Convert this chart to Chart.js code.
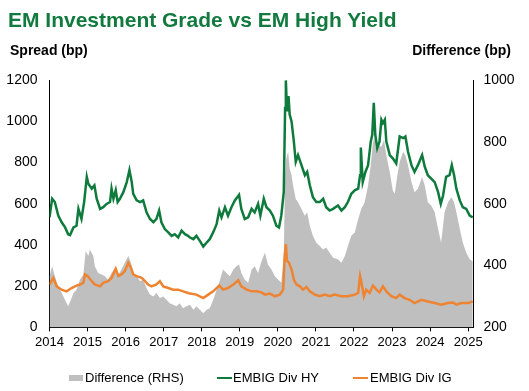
<!DOCTYPE html>
<html>
<head>
<meta charset="utf-8">
<script src="https://cdn.jsdelivr.net/npm/chart.js@4.4.1/dist/chart.umd.min.js"></script>
<style>
  body { margin: 0; background: #fff; overflow: hidden; }
  #wrap { position: relative; width: 529px; height: 391px; font-family: 'Liberation Sans', Arial, sans-serif; }
  #chart { position: absolute; left: 0; top: 0; }
  .txt { position: absolute; white-space: nowrap; }
  .title { left: 8px; top: 9px; font-size: 21px; line-height: 21px; font-weight: bold; color: #127A3E; }
  .axt { top: 43px; font-size: 14px; line-height: 14px; font-weight: bold; color: #000; }
  .leg { top: 370px; font-size: 13px; line-height: 15px; color: #000; }
  .sw { position: absolute; }
</style>
</head>
<body>
<div id="wrap">
  <canvas id="chart" width="529" height="391"></canvas>
  <div class="txt title">EM Investment Grade vs EM High Yield</div>
  <div class="txt axt" style="left:10px">Spread (bp)</div>
  <div class="txt axt" style="right:18px">Difference (bp)</div>
  <div class="sw" style="left:69px; top:375px; width:14px; height:6px; background:#BFBFBF"></div>
  <div class="txt leg" style="left:85px">Difference (RHS)</div>
  <div class="sw" style="left:217px; top:377px; width:15px; height:2px; background:#0E7A3C"></div>
  <div class="txt leg" style="left:233px">EMBIG Div HY</div>
  <div class="sw" style="left:353px; top:377px; width:15px; height:2px; background:#EE8432"></div>
  <div class="txt leg" style="left:370px">EMBIG Div IG</div>
</div>
<script>
// EMBIG Div HY spread (bp), left axis
var hyYears = [2014.00,2014.07,2014.14,2014.23,2014.32,2014.41,2014.49,2014.54,2014.63,2014.71,2014.76,2014.84,2014.91,2014.98,
  2015.02,2015.11,2015.18,2015.24,2015.33,2015.41,2015.50,2015.59,2015.63,2015.68,2015.74,2015.79,2015.85,2015.94,
  2016.03,2016.10,2016.16,2016.20,2016.29,2016.38,2016.46,2016.55,2016.64,2016.73,2016.81,2016.88,2016.94,
  2017.03,2017.12,2017.21,2017.29,2017.38,2017.47,2017.56,2017.64,2017.69,2017.78,2017.86,2017.95,
  2018.04,2018.13,2018.21,2018.30,2018.39,2018.46,2018.52,2018.61,2018.69,2018.78,2018.87,2018.98,
  2019.04,2019.13,2019.22,2019.31,2019.39,2019.48,2019.54,2019.63,2019.70,2019.79,2019.87,2019.96,
  2020.03,2020.09,2020.155,2020.19,2020.21,2020.24,2020.28,2020.31,2020.36,2020.42,2020.47,2020.53,2020.62,2020.71,2020.77,2020.84,2020.92,
  2021.01,2021.10,2021.19,2021.27,2021.36,2021.45,2021.58,2021.67,2021.76,2021.84,2021.93,
  2022.02,2022.11,2022.16,2022.18,2022.23,2022.30,2022.37,2022.44,2022.48,2022.52,2022.56,2022.61,2022.67,2022.72,2022.76,2022.81,2022.85,2022.94,
  2023.02,2023.11,2023.20,2023.29,2023.35,2023.42,2023.51,2023.59,2023.68,2023.79,2023.86,2023.94,
  2024.03,2024.12,2024.21,2024.28,2024.34,2024.42,2024.51,2024.57,2024.63,2024.69,2024.78,2024.86,2024.95,
  2025.04,2025.12];
var hySpread = [534,624,608,542,510,485,452,448,485,493,575,526,608,730,
  697,673,689,624,575,583,599,608,673,624,665,608,624,656,
  705,763,705,648,616,608,616,558,526,510,526,567,510,
  477,461,444,452,436,469,452,444,436,428,444,420,
  392,412,428,461,501,567,534,583,542,583,616,643,
  575,526,534,575,558,599,542,624,583,567,542,493,
  485,542,656,1064,1198,1048,1122,1032,999,901,803,836,787,738,754,689,632,
  608,608,624,583,567,575,591,567,583,608,648,
  665,673,738,872,705,754,787,901,934,1089,934,869,901,1007,991,1007,901,836,
  820,795,926,918,926,852,787,754,787,836,779,738,
  722,705,656,599,640,730,738,787,738,673,616,583,575,
  542,534];

// EMBIG Div IG spread (bp), left axis
var igYears = [2014.00,2014.10,2014.19,2014.32,2014.45,2014.58,2014.71,2014.80,2014.89,2014.93,
  2015.00,2015.11,2015.19,2015.33,2015.41,2015.54,2015.63,2015.74,2015.81,2015.89,2015.98,
  2016.07,2016.14,2016.20,2016.29,2016.42,2016.51,2016.59,2016.68,2016.81,2016.90,2016.99,
  2017.12,2017.25,2017.38,2017.51,2017.64,2017.69,2017.86,
  2018.04,2018.17,2018.30,2018.46,2018.56,2018.69,2018.83,2018.96,
  2019.04,2019.18,2019.31,2019.44,2019.57,2019.66,2019.79,2019.92,
  2020.05,2020.14,2020.18,2020.21,2020.24,2020.29,2020.36,2020.42,2020.49,2020.58,2020.66,2020.75,2020.84,2020.97,
  2021.10,2021.23,2021.36,2021.49,2021.67,2021.84,
  2022.02,2022.11,2022.16,2022.19,2022.26,2022.32,2022.41,2022.50,2022.59,2022.67,2022.76,2022.85,2022.98,
  2023.11,2023.20,2023.33,2023.46,2023.59,2023.77,2023.94,
  2024.12,2024.29,2024.47,2024.60,2024.69,2024.82,2025.00,2025.12];
var igSpread = [208,240,199,183,175,191,203,208,216,257,
  249,224,208,199,216,224,240,284,249,257,273,
  314,289,257,249,240,224,208,199,208,224,199,
  191,183,183,175,167,164,159,
  142,159,175,203,183,191,208,229,
  199,183,175,175,170,159,164,151,
  159,183,346,404,322,314,281,232,208,199,183,196,175,159,
  151,159,151,159,151,151,
  159,167,249,224,151,183,167,203,183,170,199,175,151,
  142,159,142,134,118,134,126,
  118,110,118,121,110,118,118,126];

// Difference (bp), right axis
var diffYears = [2014.00,2014.07,2014.14,2014.23,2014.32,2014.41,2014.49,2014.56,2014.63,2014.71,2014.80,2014.89,2014.95,
  2015.02,2015.06,2015.15,2015.19,2015.28,2015.37,2015.46,2015.54,2015.63,2015.72,2015.81,2015.89,2015.98,
  2016.07,2016.14,2016.20,2016.29,2016.38,2016.46,2016.55,2016.64,2016.73,2016.81,2016.90,2016.99,
  2017.08,2017.16,2017.25,2017.34,2017.42,2017.51,2017.60,2017.69,2017.78,2017.86,2017.95,
  2018.04,2018.13,2018.21,2018.30,2018.39,2018.48,2018.56,2018.65,2018.74,2018.83,2018.91,2018.98,
  2019.04,2019.13,2019.22,2019.31,2019.39,2019.48,2019.57,2019.66,2019.74,2019.83,2019.92,
  2020.01,2020.09,2020.155,2020.19,2020.22,2020.27,2020.31,2020.36,2020.40,2020.47,2020.53,2020.62,2020.71,2020.77,2020.84,2020.92,
  2021.01,2021.10,2021.19,2021.27,2021.36,2021.45,2021.58,2021.67,2021.76,2021.84,2021.93,
  2022.02,2022.11,2022.19,2022.28,2022.37,2022.44,2022.50,2022.54,2022.59,2022.63,2022.72,2022.79,2022.85,2022.94,
  2023.02,2023.07,2023.14,2023.20,2023.29,2023.35,2023.42,2023.51,2023.59,2023.68,2023.79,2023.86,2023.94,
  2024.03,2024.12,2024.21,2024.29,2024.38,2024.47,2024.56,2024.63,2024.69,2024.78,2024.86,2024.95,
  2025.04,2025.12];
var diffValues = [365,398,365,333,311,289,268,289,311,322,354,371,447,
  431,452,431,398,376,371,365,354,376,392,371,387,409,
  431,409,376,365,349,354,327,306,300,311,295,300,
  289,278,273,268,278,262,268,273,257,268,257,
  246,257,262,289,322,354,387,376,365,387,398,403,
  376,354,344,387,398,376,414,441,403,387,365,
  354,344,431,692,746,768,713,692,659,615,605,583,561,572,528,496,
  474,463,452,458,441,425,420,409,431,463,496,
  507,550,583,605,659,724,800,811,768,789,784,806,757,702,
  643,632,692,735,768,757,724,670,637,648,686,659,605,
  594,572,518,474,572,605,621,605,572,518,474,441,
  420,414];

var yearTicks = [2014, 2025.14];
var leftRange = [0, 1200];
var rightRange = [200, 1000];

function pts(xs, ys) {
  return xs.map(function (x, i) { return { x: x, y: ys[i] }; });
}

Chart.defaults.font.family = "'Liberation Sans', Arial, sans-serif";
Chart.defaults.color = '#000';

var ctx = document.getElementById('chart').getContext('2d');
new Chart(ctx, {
  type: 'line',
  data: {
    datasets: [{
      label: 'EMBIG Div HY',
      data: pts(hyYears, hySpread),
      yAxisID: 'y',
      borderColor: '#0E7A3C',
      borderWidth: 2.5,
      pointRadius: 0,
      tension: 0,
      order: 0
    }, {
      label: 'EMBIG Div IG',
      data: pts(igYears, igSpread),
      yAxisID: 'y',
      borderColor: '#EE8432',
      borderWidth: 2.5,
      pointRadius: 0,
      tension: 0,
      order: 1
    }, {
      label: 'Difference (RHS)',
      data: pts(diffYears, diffValues),
      yAxisID: 'y1',
      borderWidth: 0,
      borderColor: 'rgba(0,0,0,0)',
      backgroundColor: '#BFBFBF',
      fill: 'start',
      pointRadius: 0,
      tension: 0,
      order: 2
    }]
  },
  options: {
    responsive: false,
    animation: false,
    devicePixelRatio: 1,
    layout: { padding: { left: 6, right: 14, top: 80, bottom: 38 } },
    plugins: { legend: { display: false }, tooltip: { enabled: false } },
    scales: {
      x: {
        type: 'linear',
        min: yearTicks[0],
        max: yearTicks[1],
        grid: { display: true, drawOnChartArea: false, drawTicks: true, tickLength: 4, color: '#000' },
        border: { display: true, color: '#000', width: 1 },
        ticks: {
          stepSize: 1,
          includeBounds: false,
          autoSkip: false,
          maxRotation: 0,
          padding: 3,
          font: { size: 13 },
          callback: function (v) { return String(v); }
        }
      },
      y: {
        position: 'left',
        min: leftRange[0],
        max: leftRange[1],
        grid: { display: false, drawTicks: false },
        border: { display: true, color: '#000', width: 1 },
        afterFit: function (s) { s.width = 43.5; },
        ticks: { stepSize: 200, padding: 12, font: { size: 14 }, callback: function (v) { return String(v); } }
      },
      y1: {
        position: 'right',
        min: rightRange[0],
        max: rightRange[1],
        grid: { display: false, drawTicks: false },
        border: { display: true, color: '#000', width: 1 },
        afterFit: function (s) { s.width = 41.5; },
        ticks: { stepSize: 200, padding: 10, font: { size: 14 }, callback: function (v) { return String(v); } }
      }
    }
  }
});
</script>
</body>
</html>
